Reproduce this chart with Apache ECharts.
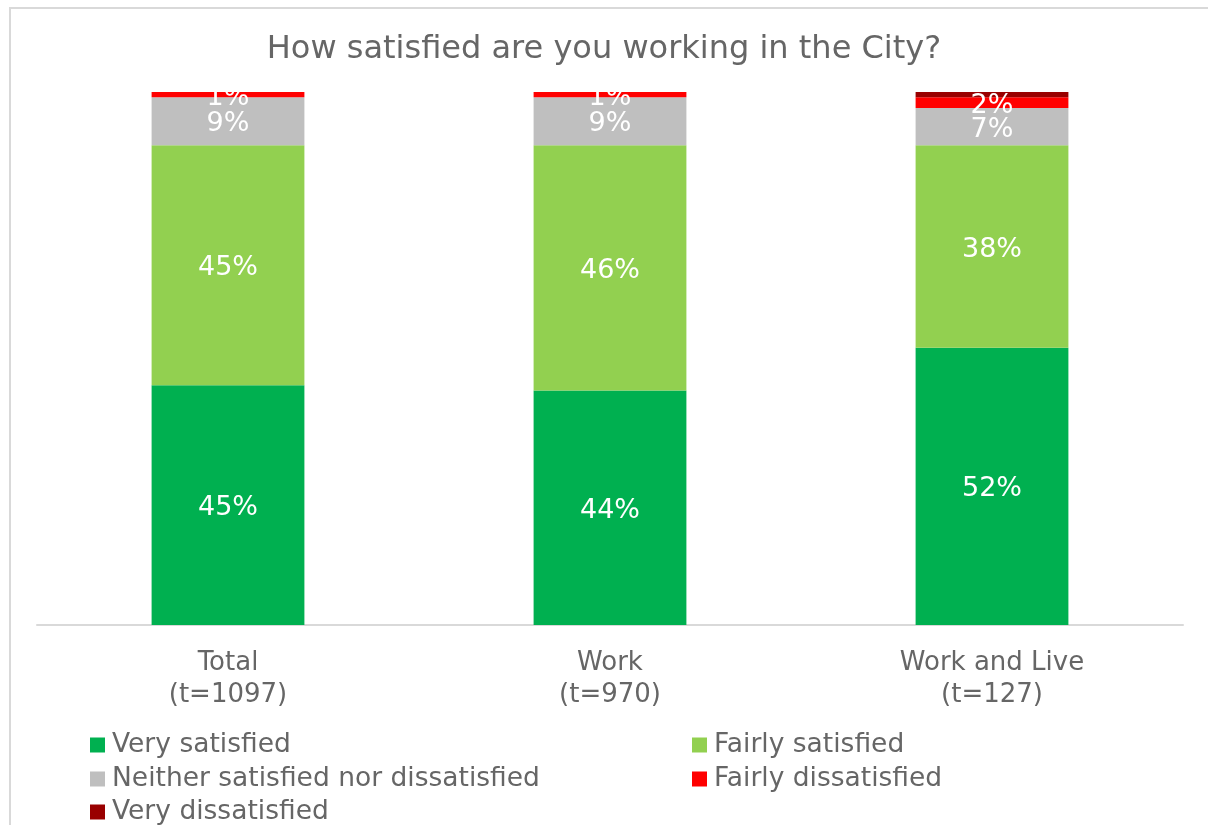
<!DOCTYPE html>
<html>
<head>
<meta charset="utf-8">
<script src="https://cdn.jsdelivr.net/npm/echarts@6/dist/echarts.min.js"></script>
<style>
  html, body { margin: 0; padding: 0; background: #ffffff; }
  #chart { width: 1208px; height: 825px; }
</style>
</head>
<body>
<div id="chart"></div>
<script>
// Survey groups shown along the x axis
const categories = ['Total\n(t=1097)', 'Work\n(t=970)', 'Work and Live\n(t=127)'];

// Share of respondents (%) per answer, one value per group
const verySatisfied = [45, 44, 52];
const fairlySatisfied = [45, 46, 38];
const neitherNor = [9, 9, 7];
const fairlyDissatisfied = [1, 1, 2];
const veryDissatisfied = [0, 0, 1];

const seriesNames = [
  'Very satisfied',
  'Fairly satisfied',
  'Neither satisfied nor dissatisfied',
  'Fairly dissatisfied',
  'Very dissatisfied'
];
const seriesColors = ['#00B050', '#92D050', '#BFBFBF', '#FF0000', '#990000'];
const seriesData = [verySatisfied, fairlySatisfied, neitherNor, fairlyDissatisfied, veryDissatisfied];
const showLabels = [true, true, true, true, false];

const FONT = '"DejaVu Sans", Verdana, sans-serif';
const TEXT_GREY = '#666666';

const chart = echarts.init(document.getElementById('chart'), null, { renderer: 'canvas' });

const series = seriesNames.map((name, i) => ({
  name: name,
  type: 'bar',
  stack: 'total',
  barCategoryGap: '60%',
  itemStyle: { color: seriesColors[i] },
  label: {
    show: showLabels[i],
    position: 'inside',
    offset: [0, 3],
    color: '#ffffff',
    fontFamily: FONT,
    fontSize: 27,
    formatter: p => (p.value > 0 ? p.value + '%' : '')
  },
  emphasis: { disabled: true },
  data: seriesData[i]
}));

// Legend laid out as two columns: each entry gets its own slot
const legendSlots = [
  { left: 90, top: 730 },   // Very satisfied
  { left: 692, top: 730 },  // Fairly satisfied
  { left: 90, top: 764 },   // Neither satisfied nor dissatisfied
  { left: 692, top: 764 },  // Fairly dissatisfied
  { left: 90, top: 797 }    // Very dissatisfied
];
const legends = seriesNames.map((name, i) => ({
  data: [name],
  left: legendSlots[i].left,
  top: legendSlots[i].top,
  padding: 0,
  itemWidth: 15,
  itemHeight: 15,
  icon: 'rect',
  selectedMode: false,
  textStyle: { color: TEXT_GREY, fontFamily: FONT, fontSize: 26.5, lineHeight: 30, padding: [0, 0, 0, 2] }
}));

chart.setOption({
  animation: false,
  backgroundColor: '#ffffff',
  title: {
    text: 'How satisfied are you working in the City?',
    left: 'center',
    top: 29,
    textStyle: { color: TEXT_GREY, fontFamily: FONT, fontSize: 32, fontWeight: 'normal' }
  },
  grid: { left: 37, right: 25, top: 92, bottom: 200, containLabel: false },
  xAxis: {
    type: 'category',
    data: categories,
    axisLine: { lineStyle: { color: '#D9D9D9', width: 2 } },
    axisTick: { show: false },
    axisLabel: { color: TEXT_GREY, fontFamily: FONT, fontSize: 26, lineHeight: 32, margin: 22 }
  },
  yAxis: {
    type: 'value',
    min: 0,
    max: 100,
    show: false,
    splitLine: { show: false }
  },
  legend: legends,
  graphic: [
    {
      type: 'polyline',
      shape: { points: [[10, 830], [10, 8], [1210, 8]] },
      style: { stroke: '#D9D9D9', lineWidth: 2, fill: null },
      silent: true
    }
  ],
  series: series
});
</script>
</body>
</html>
